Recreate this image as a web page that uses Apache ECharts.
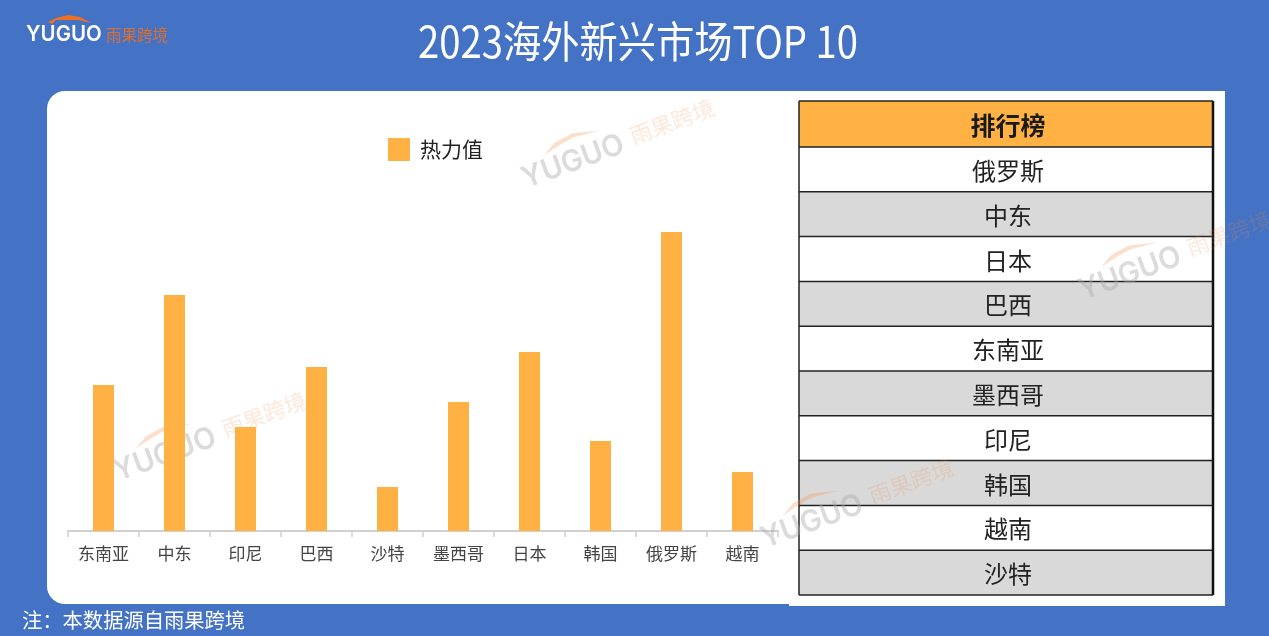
<!DOCTYPE html>
<html>
<head>
<meta charset="utf-8">
<style>
html,body{margin:0;padding:0;background:#4472C4;}
#chart{width:1269px;height:636px;}
</style>
<script src="https://cdn.jsdelivr.net/npm/echarts@6/dist/echarts.min.js"></script>
</head>
<body>
<div id="chart"></div>
<script>
var categories = ['东南亚', '中东', '印尼', '巴西', '沙特', '墨西哥', '日本', '韩国', '俄罗斯', '越南'];
var heatValues = [146, 236, 104, 164, 44, 129, 179, 90, 299, 59];
var rankNames = ['俄罗斯', '中东', '日本', '巴西', '东南亚', '墨西哥', '印尼', '韩国', '越南', '沙特'];

var CJK = '"Noto Sans CJK SC", sans-serif';
var ORANGE = '#FFB144';
var tableLeft = 799, tableRight = 1213, tableTop = 101, headH = 46, rowH = 44.8;

var myChart = echarts.init(document.getElementById('chart'));

function text(x, y, str, size, color, extra) {
	return {
		type: 'text', x: x, y: y, z: 5,
		style: Object.assign({
			text: str, fontSize: size, fill: color, fontFamily: CJK,
			align: 'center', verticalAlign: 'middle'
		}, extra || {})
	};
}

// 水印: logo arc + text, rotated as one group
function watermark(x, y, z) {
	return {
		type: 'group', x: x, y: y, rotation: 20 * Math.PI / 180,
		children: [
			{type: 'text', z: z, x: 0, y: 0, scaleX: 0.96, style: {text: 'YUGUO', fontSize: 30, fontFamily: 'Inter, sans-serif', fontWeight: 600, fill: 'rgba(170,170,170,0.42)', align: 'left', verticalAlign: 'middle'}},
			{type: 'text', z: z, x: 116, y: -4, style: {text: '雨果跨境', fontSize: 22, fontFamily: CJK, fill: 'rgba(240,140,70,0.2)', align: 'left', verticalAlign: 'middle'}},
			{type: 'polygon', z: z, shape: {points: [[28, -16], [42, -24], [62, -27], [90, -20], [62, -23], [44, -20]]}, style: {fill: 'rgba(240,140,70,0.28)'}}
		]
	};
}

function tableElements() {
	var els = [];
	var width = tableRight - tableLeft;
	var bodyTop = tableTop + headH;
	var bottom = bodyTop + rowH * rankNames.length;
	var mid = (tableLeft + tableRight) / 2 + 2;
	els.push({type: 'rect', z: 1, shape: {x: tableLeft, y: tableTop, width: width, height: headH}, style: {fill: ORANGE}});
	els.push(text(mid, tableTop + headH / 2 + 1, '排行榜', 25, '#1a1a1a', {fontWeight: 'bold'}));
	rankNames.forEach(function (name, i) {
		var y = bodyTop + rowH * i;
		els.push({type: 'rect', z: 1, shape: {x: tableLeft, y: y, width: width, height: rowH}, style: {fill: i % 2 ? '#D9D9D9' : '#fff'}});
		els.push(text(mid, y + rowH / 2 + 1.5, name, 24, '#222'));
	});
	els.push({type: 'line', z: 3, shape: {x1: tableLeft, y1: tableTop, x2: tableRight, y2: tableTop}, style: {stroke: '#222', lineWidth: 1.5}});
	for (var i = 0; i <= rankNames.length; i++) {
		var ly = bodyTop + rowH * i;
		els.push({type: 'line', z: 3, shape: {x1: tableLeft, y1: ly, x2: tableRight, y2: ly}, style: {stroke: '#222', lineWidth: 1.5}});
	}
	els.push({type: 'line', z: 3, shape: {x1: tableLeft, y1: tableTop, x2: tableLeft, y2: bottom}, style: {stroke: '#222', lineWidth: 1.5}});
	els.push({type: 'line', z: 3, shape: {x1: tableRight, y1: tableTop, x2: tableRight, y2: bottom}, style: {stroke: '#111', lineWidth: 2.5}});
	return els;
}

var titleEl = text(638, 42, '2023海外新兴市场TOP 10', 43, '#fff');
titleEl.scaleX = 0.89;

var option = {
	animation: false,
	backgroundColor: '#4472C4',
	legend: {
		left: 383, top: 133,
		itemWidth: 22, itemHeight: 23,
		icon: 'rect',
		data: ['热力值'],
		textStyle: {fontSize: 21, color: '#222', fontFamily: CJK, padding: [0, 0, 0, 5]}
	},
	grid: {left: 68, top: 131, width: 710, height: 400},
	xAxis: {
		type: 'category',
		data: categories,
		axisLine: {lineStyle: {color: '#D0D0D0', width: 2}},
		axisTick: {show: true, length: 6, lineStyle: {color: '#D0D0D0', width: 1.5}},
		axisLabel: {fontSize: 17, color: '#444', fontFamily: CJK, margin: 14, interval: 0}
	},
	yAxis: {type: 'value', min: 0, max: 400, show: false},
	series: [{
		name: '热力值',
		type: 'bar',
		barWidth: 21,
		itemStyle: {color: ORANGE},
		data: heatValues
	}],
	graphic: {elements: [
		{type: 'rect', z: -10, shape: {x: 47, y: 91, width: 780, height: 513, r: 18}, style: {fill: '#fff'}},
		{type: 'rect', z: -9, shape: {x: 789, y: 91, width: 436, height: 515}, style: {fill: '#fff'}},
		titleEl,
		text(22, 620, '注：本数据源自雨果跨境', 20.3, '#fff', {align: 'left'}),
		{type: 'text', z: 5, x: 26, y: 34, scaleX: 0.93, style: {text: 'YUGUO', fontSize: 22, fontWeight: 600, fontFamily: 'Inter, sans-serif', fill: '#fff', align: 'left', verticalAlign: 'middle'}},
		{type: 'text', z: 5, x: 106, y: 35, style: {text: '雨果跨境', fontSize: 15.5, fontFamily: CJK, fill: '#DC6E30', align: 'left', verticalAlign: 'middle'}},
		{type: 'polygon', z: 5, shape: {points: [[48, 22], [56, 18], [68, 15], [80, 17], [91, 23], [78, 20], [66, 20], [56, 20], [52, 24]]}, style: {fill: '#F07020'}}
	].concat(tableElements()).concat([
		watermark(523, 180, 50),
		watermark(1080, 292, 50),
		watermark(115, 473, 1),
		watermark(762, 540, 50)
	])}
};
myChart.setOption(option);
</script>
</body>
</html>
